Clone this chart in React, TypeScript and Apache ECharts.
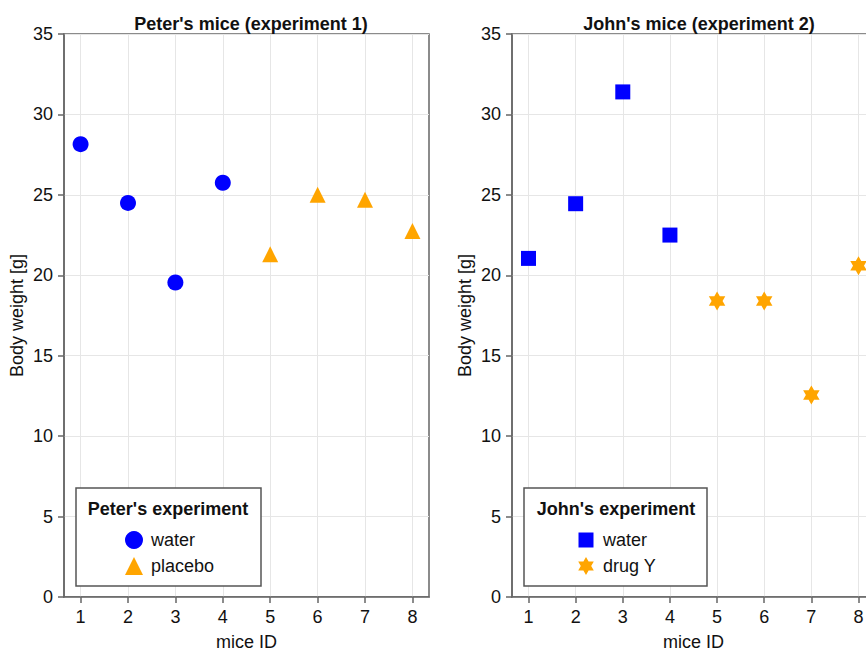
import React, { useEffect, useRef } from "react";
import * as echarts from "echarts";

const miceIds = [1, 2, 3, 4, 5, 6, 7, 8];
const peterWaterIds = [1, 2, 3, 4];
const peterWater = [28.15, 24.5, 19.55, 25.75];
const peterPlaceboIds = [5, 6, 7, 8];
const peterPlacebo = [21.3, 25.0, 24.7, 22.75];
const johnWaterIds = [1, 2, 3, 4];
const johnWater = [21.05, 24.45, 31.4, 22.5];
const johnDrugIds = [5, 6, 7, 8];
const johnDrug = [18.4, 18.4, 12.55, 20.6];

const FONT = "'Liberation Sans', Arial, Helvetica, sans-serif";
const SPINE = "#666666";
const TEXT = "#111111";
const GRIDLINE = "#e6e6e6";
const BLUE = "#0000ff";
const ORANGE = "#ffa500";

const starPath = (() => {
  const R = 10;
  const r = R / Math.sqrt(3);
  const pts: string[] = [];
  for (let k = 0; k < 12; k++) {
    const a = ((-90 + k * 30) * Math.PI) / 180;
    const rad = k % 2 === 0 ? R : r;
    pts.push(`${(rad * Math.cos(a)).toFixed(3)},${(rad * Math.sin(a)).toFixed(3)}`);
  }
  return "path://M" + pts.join("L") + "Z";
})();

// legend square smaller than its 18px slot
const legendSquare = "path://M0,0M1.5,1.5L16.5,1.5L16.5,16.5L1.5,16.5ZM18,18";

const zip = (xs: number[], ys: number[]) => xs.map((x, i) => [x, ys[i]]);

const xAxis = (gridIndex: number) => ({
  type: "value",
  gridIndex,
  min: 0.65,
  max: 8.35,
  name: "mice ID",
  nameLocation: "middle",
  nameGap: 36,
  nameTextStyle: { fontSize: 18, color: TEXT, fontFamily: FONT },
  axisLine: { show: true, onZero: false, lineStyle: { color: SPINE, width: 1.5 } },
  axisTick: { show: true, customValues: miceIds, length: 6, lineStyle: { color: SPINE, width: 1.5 } },
  axisLabel: { customValues: miceIds, fontSize: 18, color: TEXT, fontFamily: FONT, margin: 11 },
  splitLine: { show: true, customValues: miceIds, lineStyle: { color: GRIDLINE, width: 1 } },
});

const yAxis = (gridIndex: number) => ({
  type: "value",
  gridIndex,
  min: 0,
  max: 35,
  interval: 5,
  name: "Body weight [g]",
  nameLocation: "middle",
  nameGap: 38,
  nameTextStyle: { fontSize: 18, color: TEXT, fontFamily: FONT },
  axisLine: { show: true, onZero: false, lineStyle: { color: SPINE, width: 1.5 } },
  axisTick: { show: true, length: 6, lineStyle: { color: SPINE, width: 1.5 } },
  axisLabel: { fontSize: 18, color: TEXT, fontFamily: FONT, margin: 11 },
  splitLine: { show: true, lineStyle: { color: GRIDLINE, width: 1 } },
});

export default function App() {
  const ref = useRef<HTMLDivElement>(null);
  useEffect(() => {
    if (!ref.current) return;
    const chart = echarts.init(ref.current, null, { renderer: "svg" });
    chart.setOption({
      animation: false,
      backgroundColor: "#ffffff",
      textStyle: { fontFamily: FONT },
      title: [
        {
          text: "Peter's mice (experiment 1)",
          left: 246,
          top: 10,
          textAlign: "center",
          textStyle: { fontSize: 18, fontWeight: "bold", color: TEXT, fontFamily: FONT },
        },
        {
          text: "John's mice (experiment 2)",
          left: 694,
          top: 10,
          textAlign: "center",
          textStyle: { fontSize: 18, fontWeight: "bold", color: TEXT, fontFamily: FONT },
        },
      ],
      grid: [
        { left: 64, top: 34, width: 365, height: 563, outerBoundsMode: "none", containLabel: false, show: true, borderColor: SPINE, borderWidth: 1.5, backgroundColor: "transparent" },
        { left: 512, top: 34, width: 363, height: 563, outerBoundsMode: "none", containLabel: false, show: true, borderColor: SPINE, borderWidth: 1.5, backgroundColor: "transparent" },
      ],
      xAxis: [xAxis(0), xAxis(1)],
      yAxis: [yAxis(0), yAxis(1)],
      legend: [
        {
          orient: "vertical",
          left: 125,
          top: 531,
          padding: 0,
          itemWidth: 18,
          itemHeight: 18,
          itemGap: 8,
          selectedMode: false,
          z: 6,
          textStyle: { fontSize: 18, color: TEXT, fontFamily: FONT, padding: [0, 0, 0, 3] },
          data: [
            { name: "water", icon: "circle" },
            { name: "placebo", icon: "triangle" },
          ],
        },
        {
          orient: "vertical",
          left: 577,
          top: 531,
          padding: 0,
          itemWidth: 18,
          itemHeight: 18,
          itemGap: 8,
          selectedMode: false,
          z: 6,
          textStyle: { fontSize: 18, color: TEXT, fontFamily: FONT, padding: [0, 0, 0, 3] },
          data: [
            { name: "water", icon: legendSquare },
            { name: "drug Y", icon: starPath },
          ],
        },
      ],
      graphic: [
        {
          type: "rect",
          z: 5,
          shape: { x: 76, y: 488, width: 185, height: 98 },
          style: { fill: "#ffffff", stroke: "#555555", lineWidth: 1.5 },
        },
        {
          type: "text",
          z: 6,
          x: 168,
          y: 509,
          style: {
            text: "Peter's experiment",
            fill: TEXT,
            font: `bold 18px ${FONT}`,
            textAlign: "center",
            textVerticalAlign: "middle",
          },
        },
        {
          type: "rect",
          z: 5,
          shape: { x: 524, y: 488, width: 183, height: 98 },
          style: { fill: "#ffffff", stroke: "#555555", lineWidth: 1.5 },
        },
        {
          type: "text",
          z: 6,
          x: 616,
          y: 509,
          style: {
            text: "John's experiment",
            fill: TEXT,
            font: `bold 18px ${FONT}`,
            textAlign: "center",
            textVerticalAlign: "middle",
          },
        },
      ],
      series: [
        {
          type: "scatter",
          name: "water",
          xAxisIndex: 0,
          yAxisIndex: 0,
          symbol: "circle",
          symbolSize: 16,
          itemStyle: { color: BLUE, opacity: 1 },
          data: zip(peterWaterIds, peterWater),
        },
        {
          type: "scatter",
          name: "placebo",
          xAxisIndex: 0,
          yAxisIndex: 0,
          symbol: "triangle",
          symbolSize: 16,
          itemStyle: { color: ORANGE, opacity: 1 },
          data: zip(peterPlaceboIds, peterPlacebo),
        },
        {
          type: "scatter",
          name: "water",
          xAxisIndex: 1,
          yAxisIndex: 1,
          symbol: "rect",
          symbolSize: 15,
          itemStyle: { color: BLUE, opacity: 1 },
          data: zip(johnWaterIds, johnWater),
        },
        {
          type: "scatter",
          name: "drug Y",
          xAxisIndex: 1,
          yAxisIndex: 1,
          symbol: starPath,
          symbolKeepAspect: true,
          symbolSize: 19,
          itemStyle: { color: ORANGE, opacity: 1 },
          data: zip(johnDrugIds, johnDrug),
        },
      ],
    });
    return () => chart.dispose();
  }, []);
  return (
    <div
      ref={ref}
      style={{ position: "fixed", left: 0, top: 0, width: 866, height: 652, background: "#fff" }}
    />
  );
}
